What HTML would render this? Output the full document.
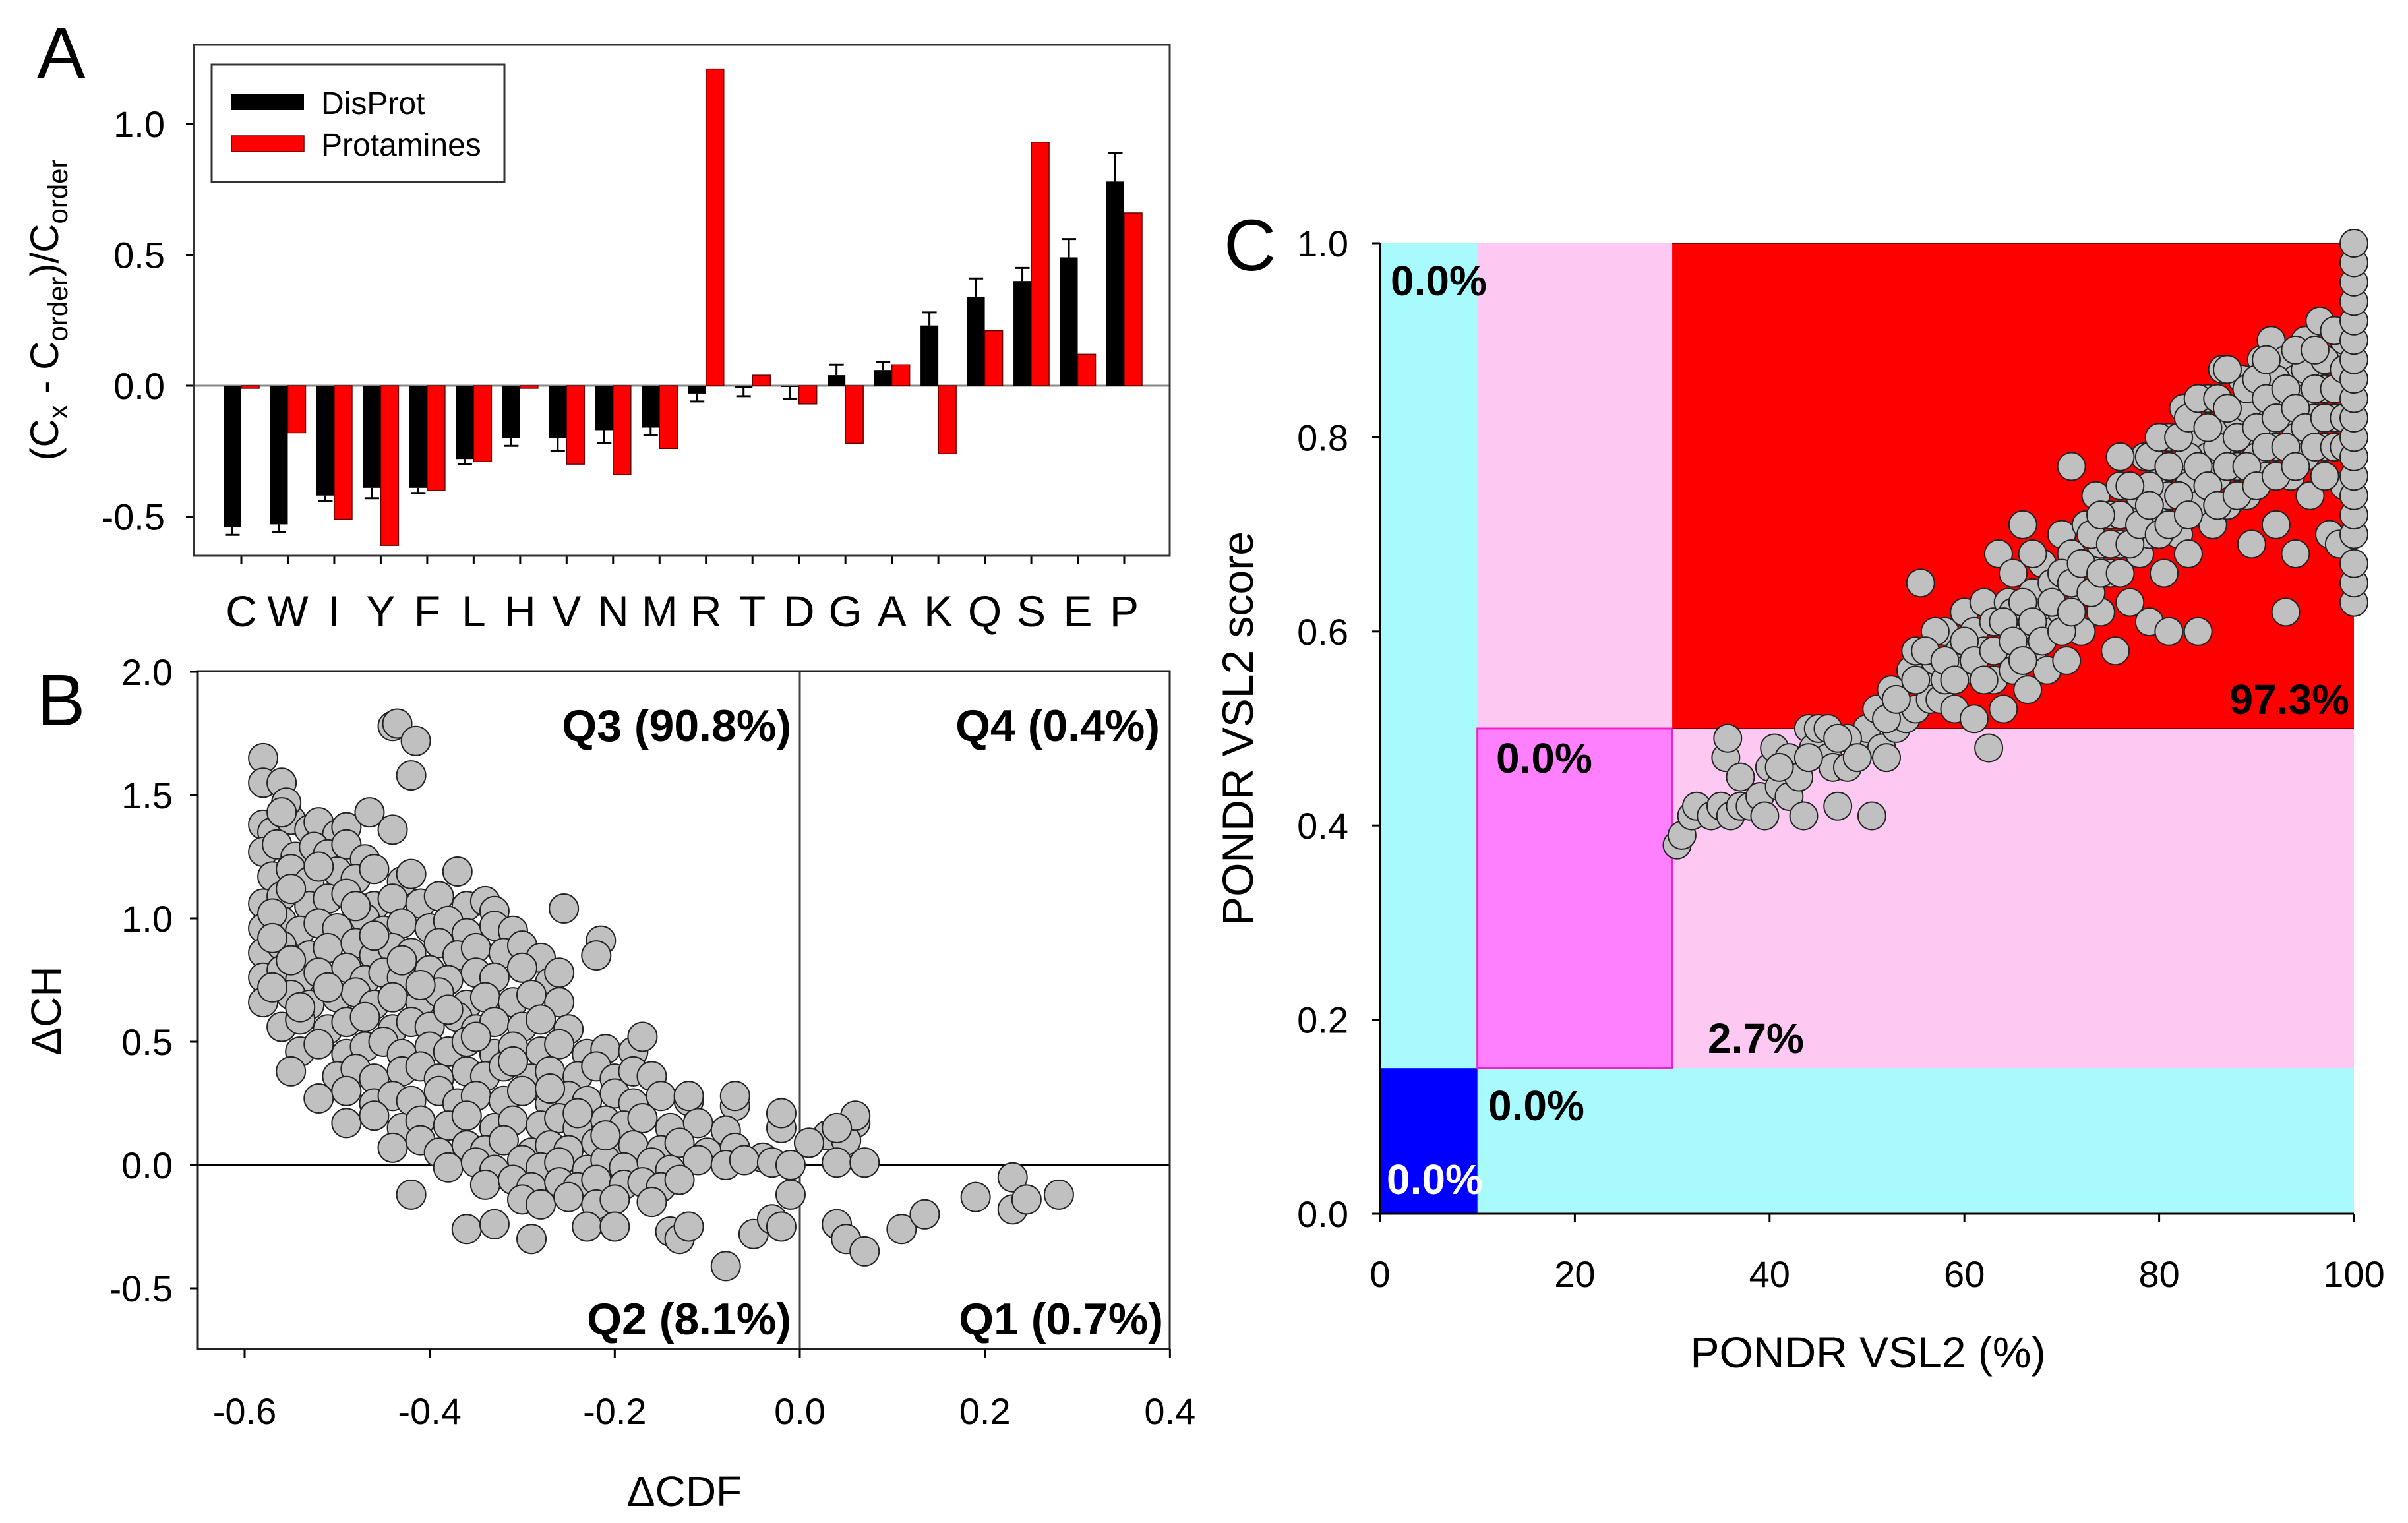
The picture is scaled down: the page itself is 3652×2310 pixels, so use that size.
<!DOCTYPE html>
<html><head><meta charset="utf-8">
<style>
html,body{margin:0;padding:0;background:#fff;}
svg{display:block;font-family:"Liberation Sans",Arial,sans-serif;}
</style></head>
<body>
<svg id="fig" width="3652" height="2310" viewBox="0 0 3652 2310" xmlns="http://www.w3.org/2000/svg">
<rect x="0" y="0" width="3652" height="2310" fill="#fff"/>
<g id="panelA"></g>
<g id="panelB"></g>
<g id="panelC"></g>
</svg>
<script>
const aCategories = ["C","W","I","Y","F","L","H","V","N","M","R","T","D","G","A","K","Q","S","E","P"];
const aDisprot = [-0.54,-0.53,-0.42,-0.39,-0.39,-0.28,-0.20,-0.20,-0.17,-0.16,-0.03,-0.01,0.00,0.04,0.06,0.23,0.34,0.40,0.49,0.78];
const aDisprotErr = [0.03,0.03,0.02,0.04,0.02,0.02,0.03,0.05,0.05,0.03,0.03,0.03,0.05,0.04,0.03,0.05,0.07,0.05,0.07,0.11];
const aProtamines = [-0.01,-0.18,-0.51,-0.61,-0.40,-0.29,-0.01,-0.30,-0.34,-0.24,1.21,0.04,-0.07,-0.22,0.08,-0.26,0.21,0.93,0.12,0.66];
const aYTicks = [-0.5,0.0,0.5,1.0];
const aYTickLabels = ["-0.5","0.0","0.5","1.0"];

const bXTicks = [-0.6,-0.4,-0.2,0.0,0.2,0.4];
const bXTickLabels = ["-0.6","-0.4","-0.2","0.0","0.2","0.4"];
const bYTicks = [-0.5,0.0,0.5,1.0,1.5,2.0];
const bYTickLabels = ["-0.5","0.0","0.5","1.0","1.5","2.0"];
const bPoints = [
[-0.58,1.38],[-0.57,1.35],[-0.55,1.40],[-0.53,1.36],[-0.52,1.39],[-0.50,1.34],[-0.49,1.37],
[-0.58,1.27],[-0.565,1.30],[-0.545,1.25],[-0.525,1.29],[-0.51,1.26],[-0.49,1.30],[-0.47,1.24],
[-0.57,1.17],[-0.55,1.20],[-0.53,1.15],[-0.50,1.19],[-0.48,1.16],[-0.46,1.20],[-0.43,1.15],[-0.42,1.18],
[-0.58,1.06],[-0.56,1.09],[-0.53,1.05],[-0.51,1.08],[-0.49,1.10],[-0.46,1.05],[-0.44,1.08],[-0.41,1.06],[-0.39,1.09],[-0.36,1.05],[-0.34,1.07],[-0.33,1.03],
[-0.58,0.96],[-0.56,0.99],[-0.54,0.95],[-0.52,0.98],[-0.50,0.96],[-0.47,1.00],[-0.45,0.95],[-0.43,0.98],[-0.40,0.96],[-0.38,0.99],[-0.36,0.94],[-0.33,0.97],[-0.31,0.95],
[-0.58,0.86],[-0.56,0.89],[-0.53,0.85],[-0.51,0.88],[-0.48,0.90],[-0.46,0.85],[-0.44,0.88],[-0.42,0.86],[-0.39,0.90],[-0.37,0.85],[-0.35,0.88],[-0.32,0.86],[-0.30,0.89],[-0.28,0.84],
[-0.58,0.76],[-0.56,0.79],[-0.54,0.75],[-0.52,0.78],[-0.49,0.80],[-0.47,0.75],[-0.45,0.78],[-0.43,0.76],[-0.40,0.79],[-0.38,0.75],[-0.35,0.78],[-0.33,0.76],[-0.30,0.80],[-0.27,0.74],[-0.26,0.78],
[-0.58,0.66],[-0.55,0.69],[-0.53,0.65],[-0.50,0.68],[-0.48,0.70],[-0.46,0.65],[-0.44,0.68],[-0.41,0.66],[-0.39,0.70],[-0.36,0.65],[-0.34,0.68],[-0.31,0.66],[-0.29,0.69],[-0.26,0.66],
[-0.56,0.56],[-0.54,0.59],[-0.51,0.55],[-0.49,0.58],[-0.47,0.60],[-0.44,0.55],[-0.42,0.58],[-0.40,0.56],[-0.37,0.60],[-0.35,0.55],[-0.33,0.58],[-0.30,0.56],[-0.28,0.59],[-0.25,0.55],
[-0.54,0.46],[-0.52,0.49],[-0.49,0.45],[-0.47,0.48],[-0.45,0.50],[-0.43,0.45],[-0.40,0.48],[-0.38,0.46],[-0.36,0.50],[-0.33,0.45],[-0.31,0.48],[-0.28,0.46],[-0.26,0.49],[-0.23,0.45],[-0.21,0.47],[-0.18,0.46],
[-0.55,0.38],[-0.50,0.36],[-0.48,0.39],[-0.46,0.35],[-0.43,0.38],[-0.41,0.40],[-0.39,0.35],[-0.36,0.38],[-0.34,0.36],[-0.32,0.40],[-0.29,0.35],[-0.27,0.38],[-0.24,0.36],[-0.22,0.40],[-0.20,0.35],[-0.18,0.38],[-0.16,0.36],
[-0.52,0.27],[-0.49,0.30],[-0.46,0.25],[-0.44,0.28],[-0.42,0.26],[-0.39,0.30],[-0.37,0.25],[-0.35,0.28],[-0.32,0.26],[-0.30,0.30],[-0.27,0.25],[-0.25,0.28],[-0.23,0.26],[-0.20,0.29],[-0.18,0.25],[-0.15,0.28],[-0.12,0.26],[-0.07,0.24],
[-0.49,0.17],[-0.46,0.20],[-0.43,0.15],[-0.41,0.18],[-0.38,0.16],[-0.36,0.20],[-0.33,0.15],[-0.31,0.18],[-0.28,0.16],[-0.26,0.19],[-0.24,0.15],[-0.21,0.18],[-0.19,0.16],[-0.17,0.19],[-0.14,0.15],[-0.11,0.17],[-0.08,0.14],[-0.02,0.15],[0.06,0.17],
[-0.44,0.07],[-0.41,0.10],[-0.39,0.05],[-0.36,0.08],[-0.34,0.06],[-0.32,0.10],[-0.29,0.05],[-0.27,0.08],[-0.25,0.06],[-0.22,0.09],[-0.20,0.05],[-0.18,0.08],[-0.15,0.06],[-0.13,0.09],[-0.10,0.05],[-0.07,0.07],[-0.04,0.03],[0.01,0.09],[0.03,0.12],[0.05,0.10],
[-0.38,-0.01],[-0.35,0.01],[-0.33,-0.02],[-0.30,0.02],[-0.28,-0.01],[-0.26,0.01],[-0.23,-0.02],[-0.21,0.02],[-0.19,-0.01],[-0.16,0.01],[-0.14,-0.02],[-0.11,0.02],[-0.08,0.00],[-0.06,0.02],[-0.03,0.01],[-0.01,0.00],[0.04,0.01],[0.07,0.01],
[-0.34,-0.08],[-0.31,-0.06],[-0.29,-0.09],[-0.26,-0.07],[-0.24,-0.09],[-0.22,-0.06],[-0.19,-0.08],[-0.17,-0.07],[-0.15,-0.09],[-0.13,-0.06],
[-0.30,-0.14],[-0.28,-0.16],[-0.25,-0.13],[-0.22,-0.16],[-0.20,-0.14],[-0.16,-0.15],
[-0.57,1.02],[-0.55,1.12],[-0.57,0.92],[-0.55,0.83],[-0.57,0.72],[-0.54,0.64],[-0.51,0.72],[-0.52,1.21],[-0.48,1.05],[-0.46,0.93],[-0.43,0.83],[-0.41,0.73],[-0.38,0.63],[-0.35,0.52],[-0.31,0.42],[-0.27,0.31],[-0.24,0.21],[-0.21,0.12],
[-0.44,1.78],[-0.435,1.79],[-0.415,1.72],[-0.42,1.58],[-0.465,1.43],[-0.44,1.36],[-0.37,1.19],[-0.255,1.04],[-0.215,0.91],[-0.22,0.85],[-0.17,0.52],
[-0.58,1.65],[-0.58,1.55],[-0.56,1.55],[-0.555,1.47],[-0.56,1.43],
[-0.42,-0.12],[-0.36,-0.26],[-0.33,-0.24],[-0.29,-0.30],[-0.23,-0.25],[-0.20,-0.25],[-0.14,-0.27],[-0.13,-0.30],[-0.12,-0.25],[-0.08,-0.41],[-0.05,-0.28],[-0.03,-0.22],[-0.02,-0.25],[-0.01,-0.12],[0.04,-0.24],[0.05,-0.30],[0.07,-0.35],[0.11,-0.26],[0.135,-0.20],[0.19,-0.13],[0.23,-0.05],[0.23,-0.18],[0.245,-0.14],[0.28,-0.12],[0.06,0.20],[0.01,0.09],[0.04,0.15],[-0.07,0.28],[-0.02,0.21],[-0.12,0.28]
];

const cXTicks = [0,20,40,60,80,100];
const cXTickLabels = ["0","20","40","60","80","100"];
const cYTicks = [0.0,0.2,0.4,0.6,0.8,1.0];
const cYTickLabels = ["0.0","0.2","0.4","0.6","0.8","1.0"];
const cPoints = [
[30.5,0.38],[31,0.39],[32,0.41],[32.5,0.42],[34,0.41],[35,0.42],[35.5,0.47],[35.7,0.49],[36,0.41],[37,0.45],[37,0.42],[38,0.42],[39,0.43],[39.5,0.41],[40,0.46],[40.5,0.48],[41,0.44],[42,0.47],[42,0.43],[43,0.45],[43.5,0.41],[44,0.50],[44.5,0.48],[45,0.50],[46,0.47],[46.5,0.46],[47,0.42],[48,0.46],[49,0.49],[50,0.50],[50.5,0.41],[51,0.52],[51.5,0.48],[52,0.47],[52.5,0.54],[53,0.50],[54,0.51],[54.5,0.56],[55,0.58],[55,0.52],[55.5,0.65],[56,0.55],[56.5,0.53],[57,0.57],[57.5,0.53],[58,0.60],[58,0.55],[59,0.52],[59.5,0.58],[60,0.62],[60,0.56],[61,0.51],[61,0.60],[62,0.58],[62,0.63],[62.5,0.48],[63,0.55],[63,0.61],[63.5,0.68],[64,0.52],[64,0.58],[64.5,0.63],[65,0.66],[65,0.56],[66,0.60],[66,0.71],[66.5,0.54],[67,0.64],[67,0.58],[68,0.62],[68,0.67],[68.5,0.56],[69,0.60],[69,0.65],[70,0.70],[70,0.62],[70.5,0.57],[71,0.68],[71,0.77],[72,0.64],[72,0.60],[72.5,0.71],[73,0.67],[73.5,0.74],[74,0.62],[74,0.69],[75,0.72],[75,0.66],[75.5,0.58],[76,0.75],[76,0.69],[77,0.72],[77,0.63],[78,0.74],[78,0.68],[78.5,0.78],[79,0.70],[79,0.61],[80,0.76],[80,0.72],[80.5,0.66],[81,0.80],[81,0.74],[81,0.60],[82,0.77],[82,0.70],[82.5,0.83],[83,0.75],[83,0.68],[84,0.80],[84,0.73],[84,0.60],[85,0.78],[85,0.84],[85.5,0.71],[86,0.81],[86,0.76],[86.5,0.87],[87,0.79],[87,0.73],[88,0.82],[88,0.77],[88.5,0.86],[89,0.80],[89,0.74],[89.5,0.69],[90,0.83],[90,0.78],[90.5,0.88],[91,0.81],[91,0.76],[91.5,0.90],[92,0.84],[92,0.79],[92,0.71],[93,0.82],[93,0.88],[93,0.62],[93.5,0.76],[94,0.86],[94,0.80],[94,0.68],[95,0.90],[95,0.84],[95,0.78],[95.5,0.74],[96,0.87],[96,0.82],[96.5,0.92],[97,0.85],[97,0.79],[97.5,0.70],[98,0.88],[98,0.82],[98.5,0.69],
[46,0.50],[48,0.49],[57,0.60],[60,0.59],[65,0.62],[67,0.68],[70,0.66],[73,0.70],[76,0.72],[79,0.75],[83,0.78],[86,0.79],[89,0.83],[92,0.86],[95,0.87],[97,0.88],[99,0.90],[99,0.75],
[41,0.46],[44,0.47],[47,0.49],[49,0.47],[52,0.51],[53,0.53],[55,0.55],[56,0.58],[58,0.57],[59,0.55],[61,0.57],[62,0.55],[63,0.58],[64,0.61],[65,0.59],[66,0.63],[66,0.57],[67,0.61],[68,0.59],[69,0.63],[70,0.60],[71,0.65],[71,0.62],[72,0.67],[73,0.64],[74,0.66],[74,0.72],[75,0.69],[76,0.66],[76,0.78],[77,0.75],[77,0.69],[78,0.71],[79,0.78],[79,0.73],[80,0.70],[80,0.80],[81,0.77],[81,0.71],[82,0.80],[82,0.74],[83,0.82],[83,0.72],[84,0.77],[84,0.84],[85,0.75],[85,0.81],[86,0.73],[86,0.84],[87,0.77],[87,0.83],[87,0.87],[88,0.80],[88,0.74],[89,0.77],[89,0.85],[90,0.81],[90,0.75],[90,0.86],[91,0.79],[91,0.84],[91,0.88],[92,0.82],[92,0.76],[93,0.79],[93,0.85],[94,0.83],[94,0.77],[94,0.89],[95,0.81],[96,0.79],[96,0.85],[96,0.89],[97,0.82],[97,0.76],[98,0.85],[98,0.79],[98,0.91],[99,0.82],[99,0.87],[99,0.79],
[100,0.63],[100,0.65],[100,0.67],[100,0.70],[100,0.72],[100,0.74],[100,0.76],[100,0.78],[100,0.80],[100,0.82],[100,0.84],[100,0.86],[100,0.88],[100,0.90],[100,0.92],[100,0.94],[100,0.96],[100,0.98],[100,1.00]
];

const NS = "http://www.w3.org/2000/svg";
function mk(parent, tag, attrs, text){
  const e = document.createElementNS(NS, tag);
  for (const k in attrs) e.setAttribute(k, attrs[k]);
  if (text !== undefined) e.textContent = text;
  parent.appendChild(e);
  return e;
}

/* ---------- Panel A ---------- */
(function(){
  const g = document.getElementById('panelA');
  const L=294, R=1774, T=68, B=843;
  const y0 = 585, perUnit = 397;
  const sy = v => y0 - v*perUnit;
  const cx0 = 366, step = (1705-366)/19;
  const sx = i => cx0 + i*step;
  const bw = 27;

  let t = mk(g,'text',{x:56,y:118,'font-size':110});
  t.textContent='A';
  
  

  let z = mk(g,'line',{x1:L,y1:y0,x2:R,y2:y0,stroke:'#888','stroke-width':3});
  
  

  aCategories.forEach((c,i)=>{
    const x = sx(i);
    const v = aDisprot[i];
    const r1 = mk(g,'rect',{x:x-bw,y:Math.min(sy(v),y0),width:bw,height:Math.max(Math.abs(sy(v)-y0),2),fill:'#000'});
    
    
    const e = aDisprotErr[i];
    const ye = v>0 ? sy(v+e) : sy(v-e);
    const el = mk(g,'path',{d:`M${x-bw/2},${sy(v)}L${x-bw/2},${ye}M${x-bw/2-11},${ye}L${x-bw/2+11},${ye}`,stroke:'#000','stroke-width':3,fill:'none'});
    
    
    const p = aProtamines[i];
    const r2 = mk(g,'rect',{x:x,y:Math.min(sy(p),y0),width:bw,height:Math.max(Math.abs(sy(p)-y0),2),fill:'#ff0000',stroke:'#600','stroke-width':1.5});
    
    
    mk(g,'line',{x1:x,y1:B,x2:x,y2:B+13,stroke:'#000','stroke-width':3});
    const tl = mk(g,'text',{x:x,y:950,'font-size':66,'text-anchor':'middle'},c);
    
    
  });

  aYTicks.forEach((v,i)=>{
    mk(g,'line',{x1:L-12,y1:sy(v),x2:L,y2:sy(v),stroke:'#000','stroke-width':3});
    const tl = mk(g,'text',{x:250,y:sy(v)+20,'font-size':56,'text-anchor':'end'},aYTickLabels[i]);
    
    
  });

  const fr = mk(g,'rect',{x:L,y:T,width:R-L,height:B-T,fill:'none',stroke:'#333','stroke-width':3});
  
  

  const yt = mk(g,'text',{x:0,y:0,'font-size':60,'text-anchor':'middle',transform:'translate(88,470) rotate(-90)'});
  
  
  yt.innerHTML = '(C<tspan dy="14" font-size="42">x</tspan><tspan dy="-14"> - C</tspan><tspan dy="14" font-size="42">order</tspan><tspan dy="-14">)/C</tspan><tspan dy="14" font-size="42">order</tspan>';

  const lg = mk(g,'g',{});
  
  
  mk(lg,'rect',{x:321,y:98,width:444,height:178,fill:'#fff',stroke:'#333','stroke-width':3});
  const s1 = mk(lg,'rect',{x:351,y:143,width:110,height:24,fill:'#000'});
  
  
  const l1 = mk(lg,'text',{x:487,y:173,'font-size':48},'DisProt');
  
  
  const s2 = mk(lg,'rect',{x:351,y:206,width:110,height:24,fill:'#ff0000',stroke:'#600','stroke-width':1.5});
  
  
  const l2 = mk(lg,'text',{x:487,y:236,'font-size':48},'Protamines');
  
  
})();

/* ---------- Panel B ---------- */
(function(){
  const g = document.getElementById('panelB');
  const L=300, R=1774, T=1018, B=2046;
  const sx = v => 1213 + v*(842/0.6);
  const sy = v => 1767 - v*(748/2.0);

  const pl = mk(g,'text',{x:56,y:1100,'font-size':110},'B');
  
  

  const vl = mk(g,'line',{x1:sx(0),y1:T,x2:sx(0),y2:B,stroke:'#444','stroke-width':3});
  
  
  const hl = mk(g,'line',{x1:L,y1:sy(0),x2:R,y2:sy(0),stroke:'#000','stroke-width':3});
  
  

  bPoints.forEach(p=>{
    const c = mk(g,'circle',{cx:sx(p[0]),cy:sy(p[1]),r:22,fill:'#c0c0c0',stroke:'#222','stroke-width':2});
    
    
  });

  const fr = mk(g,'rect',{x:L,y:T,width:R-L,height:B-T,fill:'none',stroke:'#222','stroke-width':3});
  
  

  bXTicks.forEach((v,i)=>{
    mk(g,'line',{x1:sx(v),y1:B,x2:sx(v),y2:B+14,stroke:'#000','stroke-width':3});
    const tl = mk(g,'text',{x:sx(v),y:2160,'font-size':56,'text-anchor':'middle'},bXTickLabels[i]);
    
    
  });
  bYTicks.forEach((v,i)=>{
    mk(g,'line',{x1:L-12,y1:sy(v),x2:L,y2:sy(v),stroke:'#000','stroke-width':3});
    const tl = mk(g,'text',{x:262,y:sy(v)+20,'font-size':56,'text-anchor':'end'},bYTickLabels[i]);
    
    
  });

  const xt = mk(g,'text',{x:1038,y:2284,'font-size':64,'text-anchor':'middle'},'ΔCDF');
  
  
  const yt = mk(g,'text',{x:0,y:0,'font-size':64,'text-anchor':'middle',transform:'translate(92,1533) rotate(-90)'},'ΔCH');
  
  

  const qs = [['Q3 (90.8%)',1200,1124,'q3-label'],['Q4 (0.4%)',1759,1124,'q4-label'],['Q2 (8.1%)',1200,2024,'q2-label'],['Q1 (0.7%)',1764,2024,'q1-label']];
  qs.forEach(q=>{
    const tl = mk(g,'text',{x:q[1],y:q[2],'font-size':68,'font-weight':'bold','text-anchor':'end'},q[0]);
    
    
  });
})();

/* ---------- Panel C ---------- */
(function(){
  const g = document.getElementById('panelC');
  const sx = v => 2093 + v*(1477/100);
  const sy = v => 1841 - v*1472;

  const pl = mk(g,'text',{x:1856,y:410,'font-size':110},'C');
  
  

  const regs = [
    [0,100,0,1,'#a8fafc','cyan-region'],
    [10,100,0.15,1,'#fdc8f1','light-pink-region'],
    [0,10,0,0.15,'#0000ff','blue-region'],
    [30,100,0.5,1,'#ff0000','red-region'],
    [10,30,0.15,0.5,'#ff80ff','magenta-region']
  ];
  regs.forEach(r=>{
    const e = mk(g,'rect',{x:sx(r[0]),y:sy(r[3]),width:sx(r[1])-sx(r[0]),height:sy(r[2])-sy(r[3]),fill:r[4]});
    
    
  });
  mk(g,'rect',{x:sx(10),y:sy(0.5),width:sx(30)-sx(10),height:sy(0.15)-sy(0.5),fill:'none',stroke:'#ee22cc','stroke-width':3});
  mk(g,'line',{x1:sx(30),y1:sy(0.5),x2:sx(100),y2:sy(0.5),stroke:'#880000','stroke-width':2});
  mk(g,'line',{x1:sx(30),y1:sy(1),x2:sx(100),y2:sy(1),stroke:'#880000','stroke-width':2});

  cPoints.forEach(p=>{
    const c = mk(g,'circle',{cx:sx(p[0]),cy:sy(p[1]),r:21,fill:'#c0c0c0',stroke:'#222','stroke-width':2});
    
    
  });

  const labs = [
    ['0.0%',2109,448,'#000','start','label-cyan-top'],
    ['0.0%',2269,1172,'#000','start','label-magenta'],
    ['97.3%',3563,1083,'#000','end','label-red'],
    ['2.7%',2590,1597,'#000','start','label-pink'],
    ['0.0%',2257,1699,'#000','start','label-cyan-bottom'],
    ['0.0%',2103,1811,'#fff','start','label-blue']
  ];
  labs.forEach(l=>{
    const t = mk(g,'text',{x:l[1],y:l[2],'font-size':64,'font-weight':'bold',fill:l[3],'text-anchor':l[4]},l[0]);
    
    
  });

  mk(g,'line',{x1:sx(0),y1:sy(0),x2:sx(100),y2:sy(0),stroke:'#000','stroke-width':3});
  mk(g,'line',{x1:sx(0),y1:sy(0),x2:sx(0),y2:sy(1),stroke:'#000','stroke-width':3});
  cXTicks.forEach((v,i)=>{
    mk(g,'line',{x1:sx(v),y1:sy(0),x2:sx(v),y2:sy(0)+13,stroke:'#000','stroke-width':3});
    const t = mk(g,'text',{x:sx(v),y:1952,'font-size':56,'text-anchor':'middle'},cXTickLabels[i]);
    
    
  });
  cYTicks.forEach((v,i)=>{
    mk(g,'line',{x1:sx(0)-12,y1:sy(v),x2:sx(0),y2:sy(v),stroke:'#000','stroke-width':3});
    const t = mk(g,'text',{x:2045,y:sy(v)+20,'font-size':56,'text-anchor':'end'},cYTickLabels[i]);
    
    
  });

  const xt = mk(g,'text',{x:2833,y:2074,'font-size':66,'text-anchor':'middle'},'PONDR VSL2 (%)');
  
  
  const yt = mk(g,'text',{x:0,y:0,'font-size':66,'text-anchor':'middle',transform:'translate(1900,1105) rotate(-90)'},'PONDR VSL2 score');
  
  
})();
</script>
</body></html>
